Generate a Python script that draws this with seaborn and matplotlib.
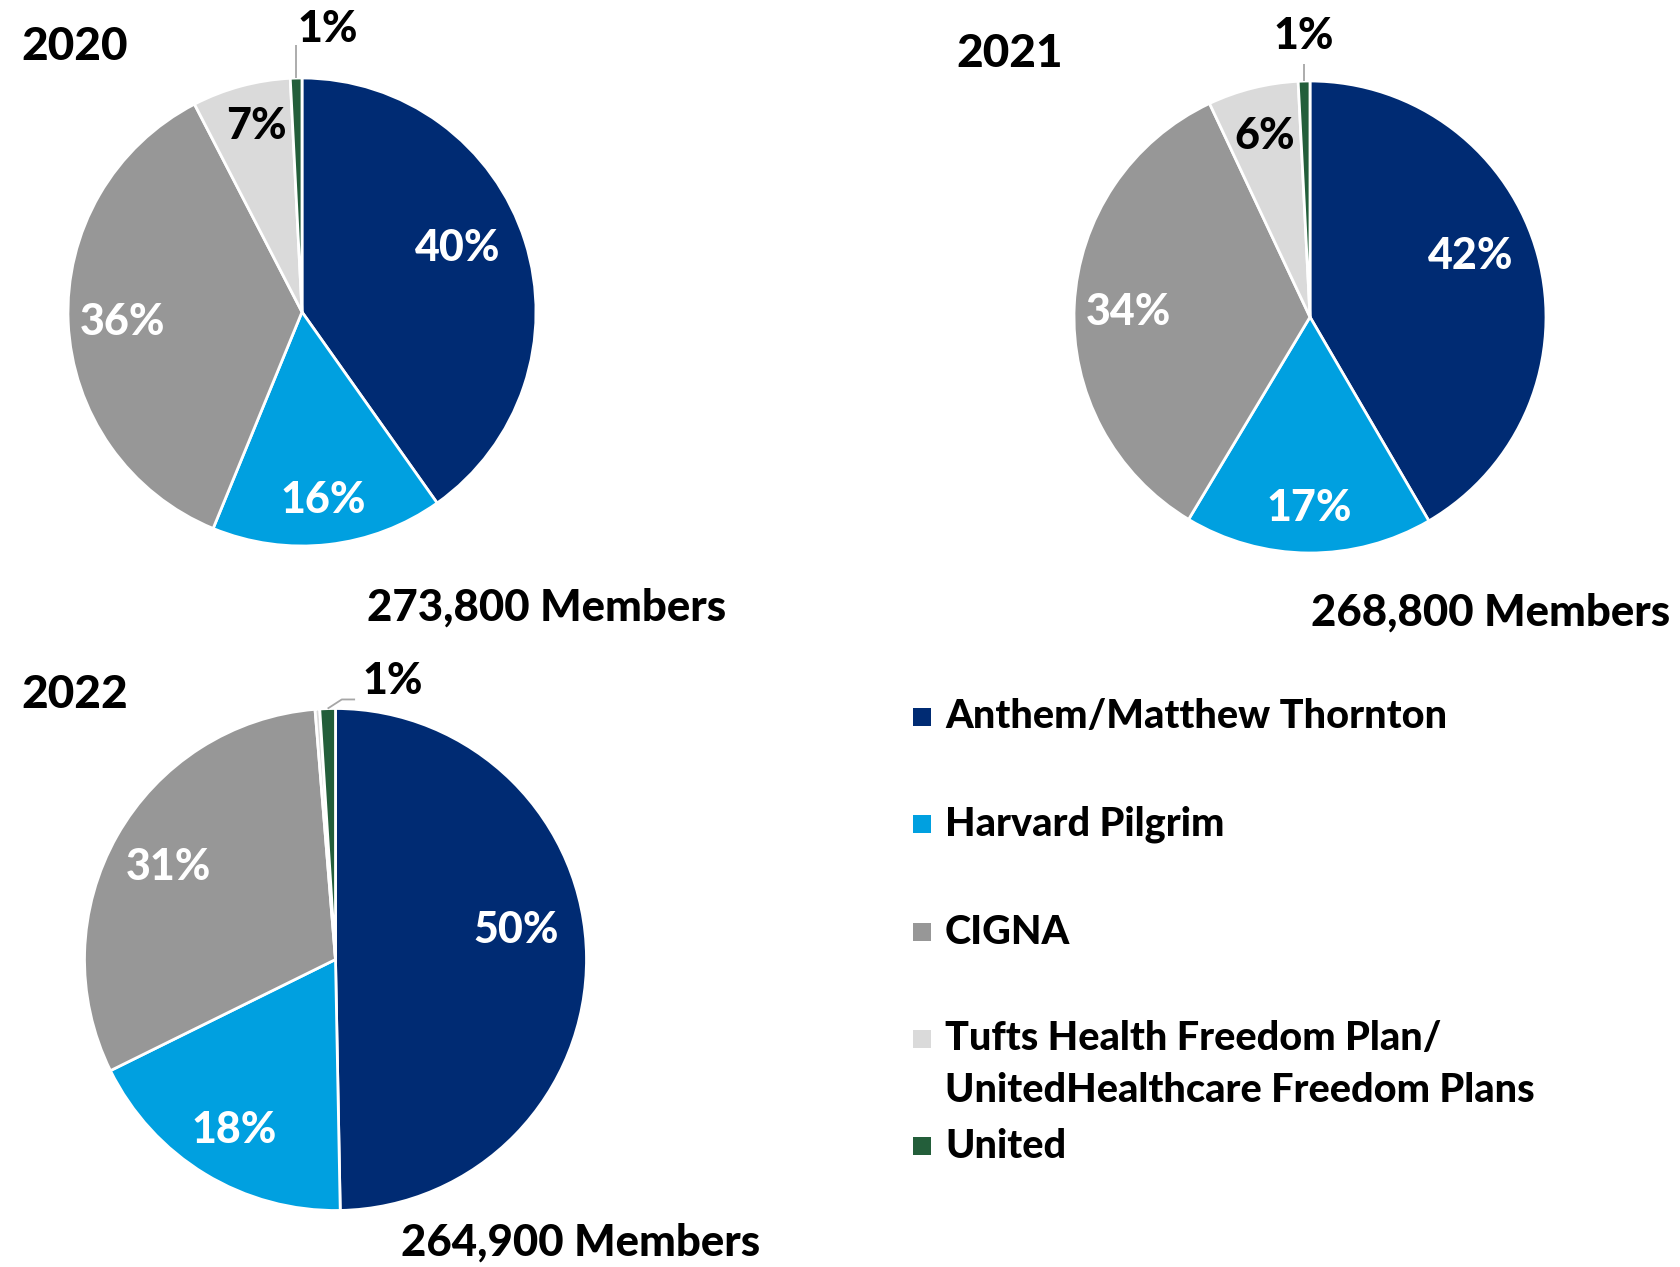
import matplotlib
matplotlib.use("Agg")
import matplotlib.pyplot as plt
from matplotlib.patches import Rectangle
import seaborn as sns
import numpy as np

sns.set_theme(style="white")
plt.rcParams["font.family"] = ["Lato", "DejaVu Sans"]
plt.rcParams["font.weight"] = "bold"

# ---------------- data ----------------
carriers = ["Anthem/Matthew Thornton", "Harvard Pilgrim", "CIGNA",
            "Tufts Health Freedom Plan/\nUnitedHealthcare Freedom Plans", "United"]
colors = ["#002B73", "#00A0E0", "#979797", "#DADADA", "#235E3A"]
years = ["2020", "2021", "2022"]
share_2020 = [40.2, 16.0, 36.2, 6.8, 0.8]
share_2021 = [41.6, 17.0, 34.4, 6.2, 0.8]
share_2022 = [49.7, 18.0, 31.0, 0.3, 1.0]
members = ["273,800 Members", "268,800 Members", "264,900 Members"]

# ---------------- layout (pixels) ----------------
W, H = 1681, 1267
fig = plt.figure(figsize=(W / 100, H / 100), dpi=100)
fig.patch.set_facecolor("white")
L = 1.45
WT = 900

def pie_axes(cx, cy, r):
    ax = fig.add_axes([(cx - L * r) / W, (H - cy - L * r) / H, 2 * L * r / W, 2 * L * r / H])
    return ax

pies = [
    dict(vals=share_2020, c=(302, 312), r=234,
         dist=[0.72, 0.81, 0.77, 0.82], shift=[4.7, 0, 0.6, -1.5],
         lead=[(None, 1.14)], txt=(-0.02, 1.21, "left")),
    dict(vals=share_2021, c=(1310, 317), r=236,
         dist=[0.73, 0.81, 0.77, 0.79], shift=[5.7, 0, 1.2, 0],
         lead=[(None, 1.07)], txt=(-0.02, 1.19, "center")),
    dict(vals=share_2022, c=(335.5, 959.5), r=251,
         dist=[0.73, 0.79, 0.76, None], shift=[8.6, 0.6, 0.4, 0],
         lead=[(0.025, 1.036), (0.078, 1.036)], txt=(0.106, 1.11, "left")),
]

FS_PCT = 31
for p in pies:
    ax = pie_axes(p["c"][0], p["c"][1], p["r"])
    wedges, _ = ax.pie(p["vals"], colors=colors, startangle=90, counterclock=False,
                       radius=1, wedgeprops=dict(edgecolor="white", linewidth=2))
    ax.set_xlim(-L, L)
    ax.set_ylim(-L, L)
    ax.set_aspect("auto")
    ax.axis("off")
    for i in range(4):
        d = p["dist"][i]
        if d is None:
            continue
        w = wedges[i]
        th = np.deg2rad((w.theta1 + w.theta2) / 2 + p["shift"][i])
        col = "black" if i == 3 else "white"
        ax.text(d * np.cos(th), d * np.sin(th), f"{round(p['vals'][i]):.0f}%",
                ha="center", va="center", fontsize=FS_PCT, fontweight=WT, color=col)
    # United leader line + label
    w = wedges[4]
    th = np.deg2rad((w.theta1 + w.theta2) / 2)
    x0, y0 = np.cos(th), np.sin(th)
    xs, ys = [x0], [y0]
    for (lx, ly) in p["lead"]:
        xs.append(x0 if lx is None else lx)
        ys.append(ly)
    ax.plot(xs, ys, color="#A6A6A6", lw=1.3, solid_capstyle="butt")
    tx, ty, tha = p["txt"]
    ax.text(tx if tha == "left" else x0, ty, f"{round(p['vals'][4]):.0f}%",
            ha=tha, va="center", fontsize=FS_PCT, fontweight=WT, color="black")

# titles
for yr, (x, y) in zip(years, [(75, 47), (1010, 54), (75, 695)]):
    fig.text(x / W, 1 - y / H, yr, ha="center", va="center", fontsize=33,
             fontweight=WT, color="black")

# member totals
for m, (x, y) in zip(members, [(547, 608), (1491, 613), (581, 1243)]):
    fig.text(x / W, 1 - y / H, m, ha="center", va="center", fontsize=31.5,
             fontweight=WT, color="black")

# legend (manual, Excel-like spacing)
leg_rows = [717, 824, 932, 1039, 1146]
sq = 18
FS_LEG = 28.5
for lab, col, y in zip(carriers, colors, leg_rows):
    fig.patches.append(Rectangle(((922 - sq / 2) / W, 1 - (y + sq / 2) / H), sq / W, sq / H,
                                 transform=fig.transFigure, facecolor=col, edgecolor="none"))
    lines = lab.split("\n")
    for k, ln in enumerate(lines):
        fig.text(945 / W, 1 - (y + 52 * k) / H, ln, ha="left", va="center",
                 fontsize=FS_LEG, fontweight=WT, color="black")

fig.savefig("out.png", dpi=100, facecolor="white")
